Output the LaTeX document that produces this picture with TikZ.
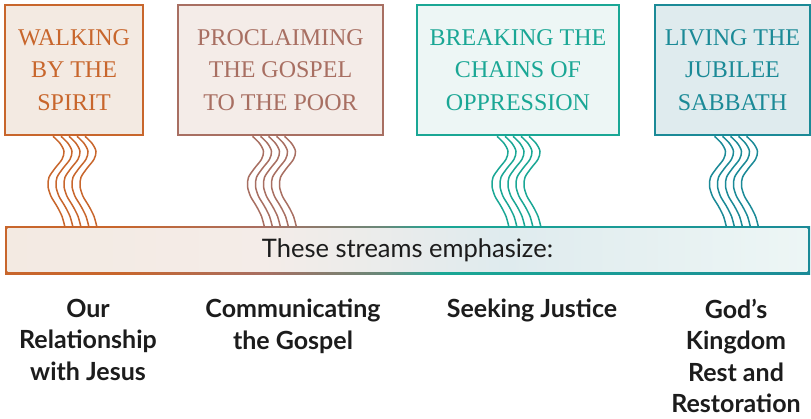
\documentclass[tikz,border=0pt]{standalone}
\usepackage{fontspec}
\newfontfamily\titlefont{Liberation Serif}
\newfontfamily\labelfont{Lato}
\usetikzlibrary{calc,positioning}
\definecolor{walkcol}{HTML}{C8662C}
\definecolor{walkfill}{HTML}{F3EAE2}
\definecolor{gospelcol}{HTML}{A86F62}
\definecolor{gospelfill}{HTML}{F4ECE8}
\definecolor{chaincol}{HTML}{1AA795}
\definecolor{chainfill}{HTML}{EDF6F5}
\definecolor{jubcol}{HTML}{1B8A97}
\definecolor{jubfill}{HTML}{DFEBEE}
\definecolor{inktext}{HTML}{1C1C1C}
% edge and fill of the long bar, left to right
\pgfdeclarehorizontalshading{streamedge}{100bp}{color(0bp)=(walkcol); color(32bp)=(walkcol);
  color(41bp)=(gospelcol); color(48.5bp)=(chaincol!45!gospelcol); color(52bp)=(chaincol);
  color(68bp)=(chaincol!40!jubcol); color(75bp)=(jubcol); color(100bp)=(jubcol)}
\pgfdeclarehorizontalshading{streamfill}{100bp}{color(0bp)=(walkfill); color(25bp)=(walkfill);
  color(41bp)=(gospelfill); color(49bp)=(gospelfill!50!jubfill); color(56bp)=(jubfill);
  color(75bp)=(chainfill); color(100bp)=(chainfill)}

\begin{document}
\begin{tikzpicture}[x=1pt, y=-1pt,
  titlebox/.style={draw, line width=2.6pt, minimum height=130pt, inner sep=0pt,
    align=center, font=\titlefont\fontsize{24}{32.5}\selectfont},
  stream/.style={line width=1.5pt},
  emphlabel/.style={anchor=north, align=center, inner sep=0pt, text=inktext,
    font=\labelfont\bfseries\fontsize{25}{31.5}\selectfont}]
\useasboundingbox (0,0) rectangle (811,418);

\node[titlebox, draw=walkcol, fill=walkfill, text=walkcol, minimum width=138pt] (walk) at (74,70) {WALKING\\BY THE\\SPIRIT};
\node[titlebox, draw=gospelcol, fill=gospelfill, text=gospelcol, minimum width=205pt] (gospel) at (280.5,70) {PROCLAIMING\\THE GOSPEL\\TO THE POOR};
\node[titlebox, draw=chaincol, fill=chainfill, text=chaincol, minimum width=202pt] (chains) at (518,70) {BREAKING THE\\CHAINS OF\\OPPRESSION};
\node[titlebox, draw=jubcol, fill=jubfill, text=jubcol, minimum width=155pt] (jubilee) at (732.5,70) {LIVING THE\\JUBILEE\\SABBATH};

% five wavy streams under each box
\foreach \nm/\dx/\col in {walk/-21/walkcol, gospel/-28/gospelcol, chains/-21/chaincol, jubilee/-18/jubcol}
  \foreach \i in {0,...,4}
    \draw[stream, \col, shift={($(\nm.south)+(\dx+8*\i,0)$)}]
      plot[smooth] coordinates {(0,0) (7,7) (11,15) (9,23) (2,32) (-4,41) (-5,50) (-2,60) (4,70) (9,80) (12,91)};

\node[shading=streamedge, minimum width=805pt, minimum height=48pt, inner sep=0pt,
  path picture={\shade[shading=streamfill]
    ($(path picture bounding box.south west)+(2.6,-2.6)$) rectangle
    ($(path picture bounding box.north east)+(-2.6,2.6)$);},
  font=\labelfont\fontsize{25.5}{29}\selectfont, text=inktext] (bar) at (407.5,250) {These streams emphasize:};

\node[emphlabel] (rel) at (88,299) {Our\\Relationship\\with Jesus};
\node[emphlabel] (comm) at (293,299) {Communicating\\the Gospel};
\node[emphlabel] (just) at (532,299) {Seeking Justice};
\node[emphlabel] (king) at (736,299) {God’s\\Kingdom\\Rest and\\Restoration};
\end{tikzpicture}
\end{document}
